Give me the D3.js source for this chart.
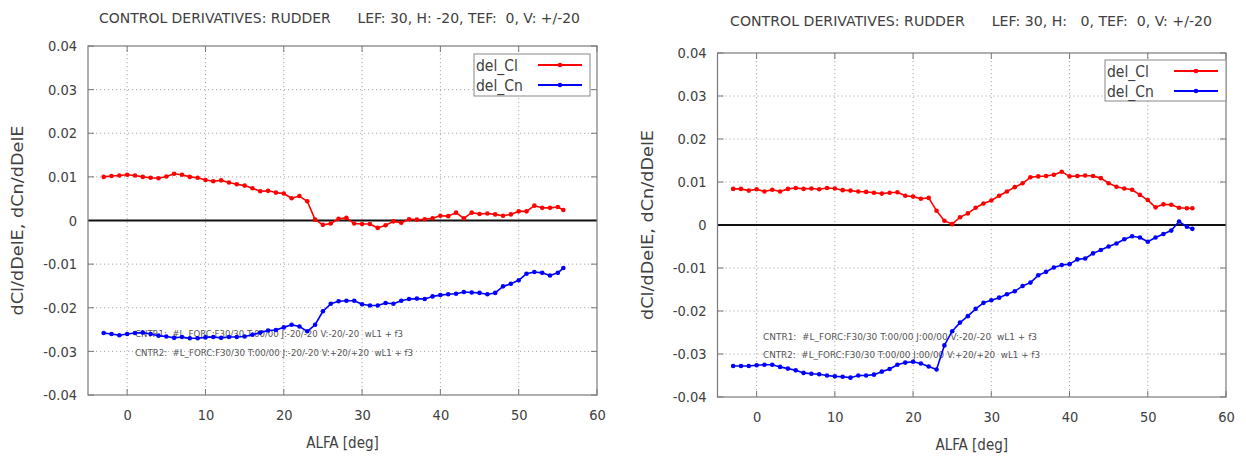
<!DOCTYPE html>
<html>
<head>
<meta charset="utf-8">
<script src="https://cdn.jsdelivr.net/npm/d3@7"></script>
<style>
  html, body { margin: 0; padding: 0; background: #fff; }
  svg { display: block; }
  text { font-family: "DejaVu Sans Condensed", "DejaVu Sans", sans-serif; fill: #404040; }
</style>
</head>
<body>
<svg id="chart" width="1246" height="459"></svg>
<script>
// ---------------- data ----------------
const alfa = [-3,-2,-1,0,1,2,3,4,5,6,7,8,9,10,11,12,13,14,15,16,17,18,19,20,21,22,23,24,25,26,27,28,29,30,31,32,33,34,35,36,37,38,39,40,41,42,43,44,45,46,47,48,49,50,51,52,53,54,55,55.7];

const clLeft = [0.0100,0.0102,0.0103,
  0.0105,0.0103,0.0100,0.0098,0.0097,0.0101,0.0107,0.0105,0.0100,0.0098,
  0.0093,0.0090,0.0092,0.0087,0.0083,0.0080,0.0074,0.0067,0.0068,0.0064,
  0.0062,0.0051,0.0056,0.0044,0.0002,-0.0010,-0.0007,0.0004,0.0006,-0.0007,
  -0.0008,-0.0008,-0.0017,-0.0011,-0.0002,-0.0005,0.0003,0.0002,0.0003,0.0005,
  0.0011,0.0010,0.0018,0.0005,0.0018,0.0015,0.0016,0.0014,0.0011,0.0014,
  0.0021,0.0021,0.0034,0.0029,0.0029,0.0031,0.0024];

const cnLeft = [-0.0258,-0.0260,-0.0263,
  -0.0260,-0.0258,-0.0257,-0.0260,-0.0264,-0.0266,-0.0269,-0.0267,-0.0270,-0.0270,
  -0.0268,-0.0267,-0.0269,-0.0267,-0.0267,-0.0266,-0.0262,-0.0257,-0.0252,-0.0251,
  -0.0245,-0.0239,-0.0243,-0.0254,-0.0239,-0.0208,-0.0191,-0.0185,-0.0184,-0.0184,
  -0.0192,-0.0195,-0.0195,-0.0189,-0.0191,-0.0184,-0.0180,-0.0179,-0.0180,-0.0174,
  -0.0171,-0.0169,-0.0168,-0.0164,-0.0165,-0.0166,-0.0169,-0.0166,-0.0151,-0.0145,
  -0.0137,-0.0122,-0.0118,-0.0120,-0.0126,-0.0120,-0.0109];

const clRight = [0.0084,0.0084,0.0080,
  0.0083,0.0078,0.0082,0.0078,0.0084,0.0086,0.0084,0.0085,0.0083,0.0086,
  0.0085,0.0081,0.0080,0.0078,0.0077,0.0075,0.0073,0.0075,0.0076,0.0068,
  0.0066,0.0061,0.0063,0.0033,0.0010,0.0002,0.0018,0.0027,0.0040,0.0050,
  0.0057,0.0068,0.0078,0.0088,0.0097,0.0111,0.0113,0.0114,0.0117,0.0124,
  0.0113,0.0114,0.0115,0.0114,0.0109,0.0097,0.0089,0.0085,0.0082,0.0070,
  0.0058,0.0041,0.0048,0.0047,0.0040,0.0039,0.0039];

const cnRight = [-0.0328,-0.0328,-0.0328,
  -0.0326,-0.0325,-0.0325,-0.0330,-0.0334,-0.0338,-0.0344,-0.0346,-0.0347,-0.0350,
  -0.0352,-0.0353,-0.0355,-0.0350,-0.0350,-0.0348,-0.0341,-0.0335,-0.0325,-0.0320,
  -0.0318,-0.0322,-0.0329,-0.0336,-0.0280,-0.0247,-0.0227,-0.0212,-0.0195,-0.0181,
  -0.0175,-0.0169,-0.0161,-0.0154,-0.0142,-0.0134,-0.0117,-0.0109,-0.0099,-0.0093,
  -0.0091,-0.0080,-0.0078,-0.0066,-0.0058,-0.0050,-0.0043,-0.0033,-0.0026,-0.0029,
  -0.0039,-0.0029,-0.0021,-0.0013,0.0008,-0.0004,-0.0009];

const xTicks = [0,10,20,30,40,50,60];
const yTicks = [0.04,0.03,0.02,0.01,0,-0.01,-0.02,-0.03,-0.04];
const seriesNames = ["del_Cl","del_Cn"];
const titlesLeft = "CONTROL DERIVATIVES: RUDDER      LEF: 30, H: -20, TEF:  0, V: +/-20";
const titlesRight = "CONTROL DERIVATIVES: RUDDER      LEF: 30, H:   0, TEF:  0, V: +/-20";
const notesLeft = ["CNTR1:  #L_FORC:F30/30 T:00/00 J:-20/-20 V:-20/-20  wL1 + f3",
                   "CNTR2:  #L_FORC:F30/30 T:00/00 J:-20/-20 V:+20/+20  wL1 + f3"];
const notesRight = ["CNTR1:  #L_FORC:F30/30 T:00/00 J:00/00 V:-20/-20  wL1 + f3",
                    "CNTR2:  #L_FORC:F30/30 T:00/00 J:00/00 V:+20/+20  wL1 + f3"];
const xLabel = "ALFA [deg]";
const yLabel = "dCl/dDelE, dCn/dDelE";

// ---------------- layout ----------------
const panels = [
  { left: 88, right: 597, top: 46, bottom: 395,
    title: titlesLeft, titleX: 99, titleY: 23, titleLen: 481,
    cl: clLeft, cn: cnLeft, notes: notesLeft,
    notesX: 135, notesY: [337, 356], notesLen: [268, 278],
    legend: { x: 474, y: 54, w: 116, h: 42 },
    yLabelX: 23 },
  { left: 717.5, right: 1226, top: 53, bottom: 397,
    title: titlesRight, titleX: 730, titleY: 26, titleLen: 482,
    cl: clRight, cn: cnRight, notes: notesRight,
    notesX: 763, notesY: [340, 358], notesLen: [274, 277],
    legend: { x: 1105, y: 60, w: 121, h: 41 },
    yLabelX: 653 }
];

const svg = d3.select("#chart");
const colors = ["#ff0000", "#0000ff"];
const fmtY = v => v === 0 ? "0" : v.toFixed(2);

panels.forEach(p => {
  const x = d3.scaleLinear().domain([-5, 60]).range([p.left, p.right]);
  const y = d3.scaleLinear().domain([-0.04, 0.04]).range([p.bottom, p.top]);
  const g = svg.append("g");

  // grid (dotted)
  g.selectAll(".gx").data(xTicks.filter(t => t > -5 && t < 60)).enter().append("line")
    .attr("x1", d => x(d)).attr("x2", d => x(d))
    .attr("y1", p.top).attr("y2", p.bottom)
    .attr("stroke", "#a8a8a8").attr("stroke-width", 1).attr("stroke-dasharray", "1.2,2.8");
  g.selectAll(".gy").data(yTicks.filter(t => t > -0.04 && t < 0.04 && t !== 0)).enter().append("line")
    .attr("x1", p.left).attr("x2", p.right)
    .attr("y1", d => y(d)).attr("y2", d => y(d))
    .attr("stroke", "#a8a8a8").attr("stroke-width", 1).attr("stroke-dasharray", "1.2,2.8");

  // tick marks inward on all sides
  const tl = 6;
  xTicks.forEach(t => {
    g.append("line").attr("x1", x(t)).attr("x2", x(t)).attr("y1", p.bottom).attr("y2", p.bottom - tl).attr("stroke", "#777");
    g.append("line").attr("x1", x(t)).attr("x2", x(t)).attr("y1", p.top).attr("y2", p.top + tl).attr("stroke", "#777");
  });
  yTicks.forEach(t => {
    g.append("line").attr("x1", p.left).attr("x2", p.left + tl).attr("y1", y(t)).attr("y2", y(t)).attr("stroke", "#777");
    g.append("line").attr("x1", p.right).attr("x2", p.right - tl).attr("y1", y(t)).attr("y2", y(t)).attr("stroke", "#777");
  });

  // axes labels via d3 axes
  const ax = g.append("g").attr("transform", `translate(0,${p.bottom})`)
    .call(d3.axisBottom(x).tickValues(xTicks).tickSize(0).tickPadding(15).tickFormat(d3.format("d")));
  ax.select(".domain").remove();
  ax.selectAll("text").style("font-size", "14.5px").style("fill", "#404040")
    .style("font-family", '"DejaVu Sans Condensed", "DejaVu Sans", sans-serif');
  const ay = g.append("g").attr("transform", `translate(${p.left},0)`)
    .call(d3.axisLeft(y).tickValues(yTicks).tickSize(0).tickPadding(11).tickFormat(fmtY));
  ay.select(".domain").remove();
  ay.selectAll("text").style("font-size", "14.5px").style("fill", "#404040")
    .style("font-family", '"DejaVu Sans Condensed", "DejaVu Sans", sans-serif');

  // zero line
  g.append("line").attr("x1", p.left).attr("x2", p.right).attr("y1", y(0)).attr("y2", y(0))
    .attr("stroke", "#111").attr("stroke-width", 2);

  // border
  g.append("rect").attr("x", p.left).attr("y", p.top)
    .attr("width", p.right - p.left).attr("height", p.bottom - p.top)
    .attr("fill", "none").attr("stroke", "#7a7a7a").attr("stroke-width", 1.2);

  // title
  g.append("text").attr("x", p.titleX).attr("y", p.titleY)
    .attr("textLength", p.titleLen).attr("lengthAdjust", "spacingAndGlyphs")
    .style("font-size", "14px").style("white-space", "pre").attr("xml:space", "preserve")
    .text(p.title);

  // axis titles
  g.append("text").attr("x", (p.left + p.right) / 2).attr("y", p.bottom + 53)
    .attr("text-anchor", "middle").style("font-size", "15px").text(xLabel);
  g.append("text")
    .attr("transform", `translate(${p.yLabelX},${(p.top + p.bottom) / 2}) rotate(-90)`)
    .attr("text-anchor", "middle").attr("textLength", 190).attr("lengthAdjust", "spacingAndGlyphs")
    .style("font-size", "15px").text(yLabel);

  // annotations
  p.notes.forEach((n, i) => {
    g.append("text").attr("x", p.notesX).attr("y", p.notesY[i])
      .attr("textLength", p.notesLen[i]).attr("lengthAdjust", "spacingAndGlyphs")
      .attr("xml:space", "preserve").style("white-space", "pre")
      .style("font-size", "9.5px").style("fill", "#555").text(n);
  });

  // series
  const series = [p.cl, p.cn];
  const line = d3.line().x(d => x(d[0])).y(d => y(d[1]));
  series.forEach((vals, si) => {
    const pts = alfa.map((a, i) => [a, vals[i]]);
    g.append("path").datum(pts).attr("d", line)
      .attr("fill", "none").attr("stroke", colors[si]).attr("stroke-width", 1.6)
      .attr("stroke-linejoin", "round");
    g.selectAll(null).data(pts).enter().append("circle")
      .attr("cx", d => x(d[0])).attr("cy", d => y(d[1])).attr("r", 2.3)
      .attr("fill", colors[si]);
  });

  // legend
  const L = p.legend;
  g.append("rect").attr("x", L.x).attr("y", L.y).attr("width", L.w).attr("height", L.h)
    .attr("fill", "#fff").attr("stroke", "#888").attr("stroke-width", 1);
  seriesNames.forEach((name, si) => {
    const cy = L.y + 11 + si * 20;
    g.append("text").attr("x", L.x + 2).attr("y", cy + 5.5)
      .style("font-size", "15.5px").style("fill", "#404040").text(name);
    g.append("line").attr("x1", L.x + L.w - 52).attr("x2", L.x + L.w - 8)
      .attr("y1", cy).attr("y2", cy).attr("stroke", colors[si]).attr("stroke-width", 1.8);
    g.append("circle").attr("cx", L.x + L.w - 30).attr("cy", cy).attr("r", 2.3).attr("fill", colors[si]);
  });
});
</script>
</body>
</html>
